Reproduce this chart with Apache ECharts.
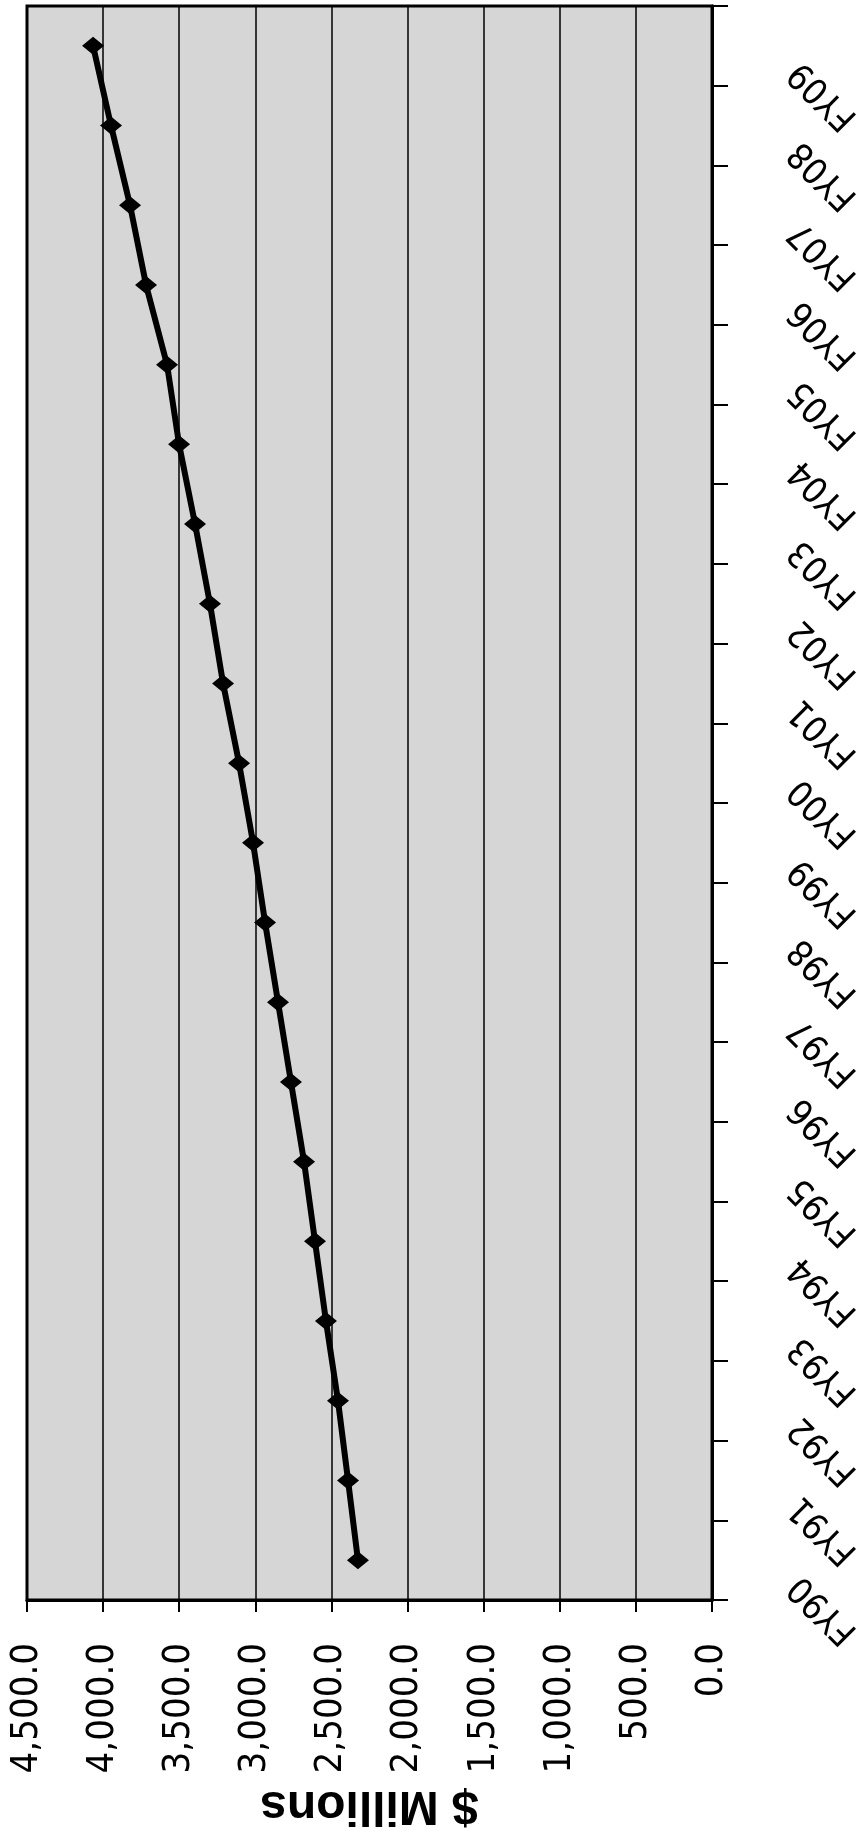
<!DOCTYPE html>
<html>
<head>
<meta charset="utf-8">
<script src="https://cdn.jsdelivr.net/npm/echarts@6/dist/echarts.min.js"></script>
<style>
html,body{margin:0;padding:0;background:#fff;}
#chart{width:857px;height:1831px;}
</style>
</head>
<body>
<div id="chart"></div>
<script>
// Categories (fiscal years), bottom to top in the picture
const categories = ['FY90','FY91','FY92','FY93','FY94','FY95','FY96','FY97','FY98','FY99',
                    'FY00','FY01','FY02','FY03','FY04','FY05','FY06','FY07','FY08','FY09'];
// Series values in $ millions
const values = [2326, 2391, 2457, 2536, 2608, 2680, 2766, 2851, 2936, 3015,
                3107, 3212, 3298, 3396, 3501, 3580, 3718, 3823, 3948, 4066];
// Value-axis tick labels
const tickValues = [0, 500, 1000, 1500, 2000, 2500, 3000, 3500, 4000, 4500];
const tickLabels = ['0.0','500.0','1,000.0','1,500.0','2,000.0','2,500.0','3,000.0','3,500.0','4,000.0','4,500.0'];
const axisTitle = '$ Millions';

const narrow = "'Liberation Sans Narrow', 'DejaVu Sans Condensed', 'Liberation Sans', sans-serif";

const chart = echarts.init(document.getElementById('chart'), null, {renderer: 'canvas'});
chart.setOption({
  backgroundColor: '#ffffff',
  animation: false,
  grid: {
    left: 27, right: 145, top: 6, bottom: 231,
    show: true,
    backgroundColor: '#d6d6d6',
    borderColor: '#000000',
    borderWidth: 3,
    outerBoundsMode: 'none'
  },
  xAxis: {
    type: 'value',
    inverse: true,
    position: 'bottom',
    min: 0, max: 4500, interval: 500,
    axisLine: {show: true, lineStyle: {color: '#000', width: 3}},
    axisTick: {show: true, length: 12, lineStyle: {color: '#000', width: 2}},
    splitLine: {show: true, lineStyle: {color: '#000', width: 1.5}},
    axisLabel: {
      rotate: 90,
      margin: 43,
      color: '#000',
      fontFamily: narrow,
      fontSize: 38,
      formatter: function (v) {
        const i = tickValues.indexOf(v);
        return i >= 0 ? tickLabels[i] : '';
      }
    },
    name: axisTitle,
    nameLocation: 'middle',
    nameRotate: 180,
    nameGap: 162,
    nameTextStyle: {
      color: '#000',
      fontFamily: "'Liberation Sans', Arial, sans-serif",
      fontWeight: 'bold',
      fontSize: 48
    }
  },
  yAxis: {
    type: 'category',
    position: 'right',
    data: categories,
    boundaryGap: true,
    axisLine: {show: true, lineStyle: {color: '#000', width: 3}},
    axisTick: {show: true, length: 16, alignWithLabel: false, lineStyle: {color: '#000', width: 2}},
    splitLine: {show: false},
    axisLabel: {
      interval: 0,
      rotate: 135,
      align: 'right',
      verticalAlign: 'middle',
      margin: 62,
      padding: [0, 30, 0, 0],
      color: '#000',
      fontFamily: narrow,
      fontSize: 36
    }
  },
  series: [{
    type: 'line',
    data: values,
    symbol: 'diamond',
    symbolSize: [22, 18],
    lineStyle: {color: '#000', width: 6},
    itemStyle: {color: '#000'},
    z: 5
  }]
});
</script>
</body>
</html>
